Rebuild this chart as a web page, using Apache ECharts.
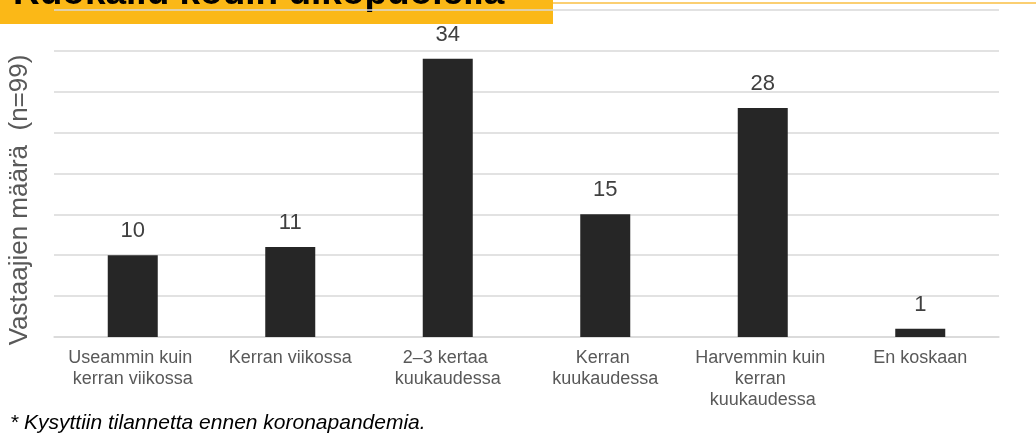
<!DOCTYPE html>
<html>
<head>
<meta charset="utf-8">
<script src="https://cdn.jsdelivr.net/npm/echarts@6/dist/echarts.min.js"></script>
<style>
  html, body { margin: 0; padding: 0; background: #fff; }
  #chart { width: 1036px; height: 442px; }
</style>
</head>
<body>
<div id="chart"></div>
<script>
// data
const categories = [
  'Useammin kuin kerran viikossa',
  'Kerran viikossa',
  '2–3 kertaa kuukaudessa',
  'Kerran kuukaudessa',
  'Harvemmin kuin kerran kuukaudessa',
  'En koskaan'
]
const respondents = [10, 11, 34, 15, 28, 1]

const titleText = 'Ruokailu kodin ulkopuolella'
const yName = 'Vastaajien määrä  (n=99)'
const footnote = '* Kysyttiin tilannetta ennen koronapandemia.'

const font = '"Liberation Sans", Arial, sans-serif'

const chart = echarts.init(document.getElementById('chart'))

const option = {
  backgroundColor: '#fff',
  animation: false,
  grid: { left: 54, right: 37, top: 9.7, bottom: 105 },
  xAxis: {
    type: 'category',
    data: categories,
    axisLine: { lineStyle: { color: '#d9d9d9', width: 1.5 } },
    axisTick: { show: false },
    axisLabel: {
      color: '#595959',
      fontFamily: font,
      fontSize: 18,
      lineHeight: 21,
      margin: 11,
      interval: 0,
      width: 150,
      overflow: 'break'
    }
  },
  yAxis: {
    type: 'value',
    min: 0,
    max: 40,
    interval: 5,
    axisLabel: { show: false },
    axisLine: { show: false },
    axisTick: { show: false },
    splitLine: { lineStyle: { color: '#d9d9d9', width: 1.5 } }
  },
  series: [{
    type: 'bar',
    data: respondents,
    barWidth: 50,
    itemStyle: { color: '#262626' },
    label: {
      show: true,
      position: 'top',
      distance: 13,
      color: '#404040',
      fontFamily: font,
      fontSize: 22
    }
  }],
  graphic: [
    // orange title banner, cut off at the top, sits under the grid lines
    { type: 'rect', z: -10, shape: { x: 0, y: 0, width: 553, height: 24 }, style: { fill: '#fbb817' } },
    { type: 'rect', z: -10, shape: { x: 553, y: 2, width: 483, height: 2 }, style: { fill: '#fbcf72' } },
    {
      type: 'text', z: -5, x: 13, y: -6,
      style: { text: titleText, fill: '#000', font: 'bold 37px ' + font, verticalAlign: 'middle' }
    },
    {
      type: 'text', x: 20, y: 200, rotation: Math.PI / 2,
      style: {
        text: yName, fill: '#595959', fontFamily: font, fontSize: 26,
        align: 'center', verticalAlign: 'middle'
      }
    },
    {
      type: 'text', x: 10, y: 423,
      style: { text: footnote, fill: '#000', font: 'italic 21px ' + font, verticalAlign: 'middle' }
    }
  ]
}

chart.setOption(option)
</script>
</body>
</html>
